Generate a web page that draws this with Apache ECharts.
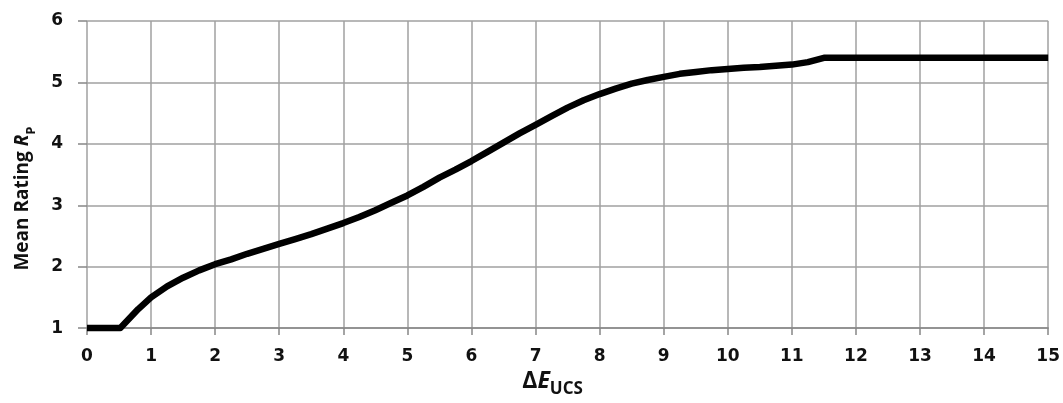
<!DOCTYPE html>
<html>
<head>
<meta charset="utf-8">
<script src="https://cdn.jsdelivr.net/npm/echarts@6/dist/echarts.min.js"></script>
<style>html,body{margin:0;padding:0;background:#fff;overflow:hidden}#c{width:1063px;height:403px}</style>
</head>
<body>
<div id="c"></div>
<script>
const deltaE = [0, 0.52, 0.8, 1.0, 1.25, 1.5, 1.75, 2.0, 2.25, 2.5, 2.75, 3.0, 3.25, 3.5, 3.75, 4.0, 4.25, 4.5, 4.75, 5.0, 5.25, 5.5, 5.75, 6.0, 6.25, 6.5, 6.75, 7.0, 7.25, 7.5, 7.75, 8.0, 8.25, 8.5, 8.75, 9.0, 9.25, 9.5, 9.75, 10.0, 10.25, 10.5, 10.75, 11.0, 11.25, 11.5, 15];
const meanRating = [1, 1, 1.31, 1.50, 1.68, 1.82, 1.94, 2.04, 2.12, 2.21, 2.29, 2.37, 2.45, 2.53, 2.62, 2.71, 2.81, 2.92, 3.04, 3.16, 3.30, 3.45, 3.58, 3.72, 3.87, 4.02, 4.17, 4.31, 4.45, 4.59, 4.71, 4.81, 4.90, 4.98, 5.04, 5.09, 5.14, 5.17, 5.20, 5.22, 5.24, 5.25, 5.27, 5.29, 5.33, 5.40, 5.40];
const xTicks = {min: 0, max: 15, interval: 1};
const yTicks = {min: 1, max: 6, interval: 1};

const chart = echarts.init(document.getElementById('c'), null, {renderer: 'canvas', width: 1063, height: 403});
const gridColor = '#a0a0a0';
chart.setOption({
  animation: false,
  backgroundColor: '#fff',
  grid: {left: 87, top: 21, width: 963, height: 317, containLabel: false},
  xAxis: {
    type: 'value', min: xTicks.min, max: xTicks.max, interval: xTicks.interval,
    axisLine: {show: true, lineStyle: {color: '#868686', width: 1.5}},
    axisTick: {show: true, length: 7, lineStyle: {color: '#868686', width: 1.5}},
    splitLine: {show: true, lineStyle: {color: gridColor, width: 1.5}},
    axisLabel: {margin: 20, color: '#111', fontFamily: 'DejaVu Sans', fontWeight: 'bold', fontSize: 17},
    name: '{a|Δ}{e|E}{s|UCS}',
    nameLocation: 'middle',
    nameGap: 41,
    nameTextStyle: {
      padding: [0, 30, 0, 0],
      rich: {
        a: {fontFamily: 'Open Sans', fontWeight: 'bold', fontSize: 23, color: '#111', verticalAlign: 'bottom'},
        e: {fontFamily: 'Open Sans', fontWeight: 'bold', fontStyle: 'italic', fontSize: 23, color: '#111', verticalAlign: 'bottom'},
        s: {fontFamily: 'Open Sans', fontWeight: 'bold', fontSize: 17, color: '#111', verticalAlign: 'bottom', padding: [0,0,-5,0]}
      }
    }
  },
  yAxis: {
    type: 'value', min: yTicks.min, max: yTicks.max, interval: yTicks.interval,
    axisLine: {show: false},
    axisTick: {show: true, length: 9, lineStyle: {color: '#868686', width: 1.5}},
    splitLine: {show: true, lineStyle: {color: gridColor, width: 1.5}},
    axisLabel: {margin: 24, color: '#111', fontFamily: 'DejaVu Sans', fontWeight: 'bold', fontSize: 17},
    name: 'Mean Rating {i|R}{s|P}',
    nameLocation: 'middle',
    nameGap: 55,
    nameRotate: 90,
    nameTextStyle: {
      fontFamily: 'Open Sans', fontWeight: 'bold', fontSize: 19, color: '#111',
      padding: [0, 0, 0, -48],
      rich: {
        i: {fontFamily: 'Open Sans', fontWeight: 'bold', fontStyle: 'italic', fontSize: 19, color: '#111'},
        s: {fontFamily: 'Open Sans', fontWeight: 'bold', fontSize: 13, color: '#111', verticalAlign: 'bottom', padding: [0,0,-6,0]}
      }
    }
  },
  series: [{
    type: 'line',
    data: deltaE.map((x, i) => [x, meanRating[i]]),
    showSymbol: false,
    symbol: 'none',
    lineStyle: {color: '#000', width: 6.5, join: 'round', cap: 'butt'},
    clip: false
  }]
});
</script>
</body>
</html>
